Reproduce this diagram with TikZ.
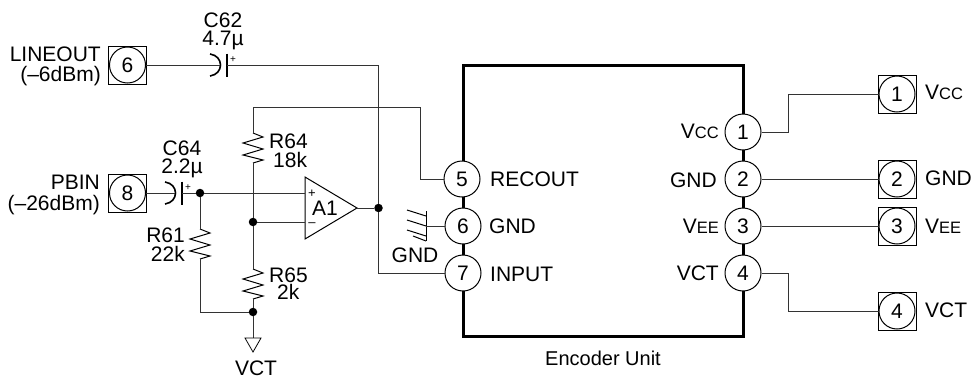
\documentclass[tikz,border=0pt]{standalone}
\usepackage{fontspec}
\setmainfont{Liberation Sans}
\newcommand{\lab}{\fontsize{21}{20}\selectfont}
\newcommand{\smc}[2]{#1{\fontsize{16.5}{16}\selectfont #2}}
\tikzset{
  pin/.style={draw=black,circle,fill=white,line width=1pt,minimum size=36pt,inner sep=0pt,font=\lab},
  term/.style={draw=black,rectangle,line width=1pt,minimum size=38pt,inner sep=0pt},
  wire/.style={draw=black!80,line width=0.85pt},
  dotn/.style={circle,fill=black,draw=none,minimum size=8.5pt,inner sep=0pt},
  body/.style={draw=black,line width=3pt},
  sym/.style={draw=black,line width=1pt},
  L/.style={anchor=base west,inner sep=0pt,font=\lab},
  R/.style={anchor=base east,inner sep=0pt,font=\lab},
  C/.style={anchor=base,inner sep=0pt,font=\lab},
  plus/.style={inner sep=0pt,font=\fontsize{10}{10}\selectfont},
  pics/resv/.style={code={\draw[sym,line join=miter] (0,0) -- (10,4) -- (-10,10) -- (10,16) -- (-10,22) -- (10,27) -- (0,30);}},
  pics/caph/.style={code={
    \draw[sym,line width=1.6pt] (-9,-11) .. controls (5,-9) and (5,9) .. (-9,11);
    \draw[sym,line width=1.6pt] (8,-11.5) -- (8,11.5);}}
}
\begin{document}
\begin{tikzpicture}[x=1pt,y=-1pt]
\useasboundingbox (0,0) rectangle (975,378);
% unit body
\node[draw=none,inner sep=0pt] (ul) at (463,65) {};
\node[draw=none,inner sep=0pt] (lr) at (743,336.5) {};
\draw[body,line join=miter] (ul.center) rectangle (lr.center);
% terminals
\node[term] (t6) at (127.5,65) {};
\node[pin] (c6t) at (127.5,65) {6};
\node[term] (t8) at (127.5,193) {};
\node[pin] (c8t) at (127.5,193) {8};
\node[term] (t1) at (897,94) {};
\node[pin] (c1t) at (897,94) {1};
\node[term] (t2) at (897,179) {};
\node[pin] (c2t) at (897,179) {2};
\node[term] (t3) at (897,226) {};
\node[pin] (c3t) at (897,226) {3};
\node[term] (t4) at (897,311) {};
\node[pin] (c4t) at (897,311) {4};
% unit pins
\node[pin] (p5) at (462,179) {5};
\node[pin] (p6) at (463,226) {6};
\node[pin] (p7) at (463,273) {7};
\node[pin] (p1) at (743,132) {1};
\node[pin] (p2) at (743,179) {2};
\node[pin] (p3) at (743,226) {3};
\node[pin] (p4) at (743,273) {4};
% right wires
\draw[wire] (p1.east) -- (788,132) -- (788,94) -- (c1t.west);
\draw[wire] (p2.east) -- (c2t.west);
\draw[wire] (p3.east) -- (c3t.west);
\draw[wire] (p4.east) -- (788,273) -- (788,311) -- (c4t.west);
% capacitors
\pic at (219,65) {caph};
\pic at (174,193) {caph};
\coordinate (c62l) at (220,65);
\coordinate (c62r) at (227,65);
\coordinate (c64l) at (175,193);
\coordinate (c64r) at (182,193);
\node[plus] at (233,59.5) {+};
\node[plus] at (188,187.5) {+};
% junctions
\node[dotn] (j1) at (200,193) {};
\node[dotn] (j2) at (253,222) {};
\node[dotn] (j3) at (253,312) {};
\node[dotn] (j4) at (378.5,208) {};
% op amp
\node[draw=none,inner sep=0pt] (oa) at (305,177) {};
\node[draw=none,inner sep=0pt] (ob) at (305,239) {};
\node[draw=none,inner sep=0pt] (oc) at (357,208) {};
\draw[sym,line join=miter] (oa.center) -- (oc.center) -- (ob.center) -- cycle;
\coordinate (ip) at (305,193);
\coordinate (im) at (305,222);
\node[font=\fontsize{13}{13}\selectfont,inner sep=0pt] at (312,193.5) {+};
\node[font=\fontsize{13}{13}\selectfont,inner sep=0pt] at (312,224.5) {–};
\node[C] at (325,215) {A1};
% resistors
\pic at (253,133) {resv};
\pic at (253,269) {resv};
\pic at (200,229) {resv};
% wires
\draw[wire] (c6t.east) -- (c62l);
\draw[wire] (c62r) -- (378.5,65) -- (j4) -- (378.5,273) -- (p7.west);
\draw[wire] (c8t.east) -- (c64l);
\draw[wire] (c64r) -- (j1) -- (ip);
\draw[wire] (oc.center) -- (j4);
\draw[wire] (im) -- (j2);
\draw[wire] (j1) -- (200,229);
\draw[wire] (200,259) -- (200,312) -- (j3);
\draw[wire] (p5.west) -- (420,179) -- (420,107) -- (253,107) -- (253,133);
\draw[wire] (253,163) -- (j2) -- (253,269);
\draw[wire] (253,299) -- (j3);
% VCT rail symbol
\node[draw=none,inner sep=0pt] (va) at (245,338) {};
\node[draw=none,inner sep=0pt] (vb) at (261,338) {};
\node[draw=none,inner sep=0pt] (vc) at (253,352) {};
\draw[wire] (j3) -- (253,338);
\draw[line width=0.8pt,line join=miter] (va.center) -- (vb.center) -- (vc.center) -- cycle;
% GND symbol
\coordinate (gt) at (426,211);
\coordinate (gb) at (426,241);
\draw[sym] (gt) -- (gb);
\draw[sym] (407,210) -- (426,216);
\draw[sym] (407,220) -- (426,226);
\draw[sym] (407,230) -- (426,236);
\draw[sym] (413,236) -- (426,241);
\draw[wire] (426,226) -- (p6.west);
% labels
\node[R] at (101,61) {LINEOUT};
\node[R] at (101,81.5) {(–6dBm)};
\node[R] at (100,189) {PBIN};
\node[R] at (100,210) {(–26dBm)};
\node[C] at (223,27) {C62};
\node[C] at (223,45) {4.7µ};
\node[C] at (182,155) {C64};
\node[C] at (182,173) {2.2µ};
\node[L] at (269,148) {R64};
\node[L] at (273,167) {18k};
\node[L] at (269,282) {R65};
\node[L] at (277,299) {2k};
\node[R] at (185,242) {R61};
\node[R] at (185,261) {22k};
\node[C] at (256,375) {VCT};
\node[C] at (415,262) {GND};
\node[L] at (490,186) {RECOUT};
\node[L] at (489,233) {GND};
\node[L] at (490,281) {INPUT};
\node[C,font=\fontsize{20}{20}\selectfont] at (603,365) {Encoder Unit};
\node[R] at (719,138) {\smc{V}{CC}};
\node[R] at (717,187) {GND};
\node[R] at (719,233) {\smc{V}{EE}};
\node[R] at (719,280) {VCT};
\node[L] at (925,99) {\smc{V}{CC}};
\node[L] at (925,185) {GND};
\node[L] at (925,233) {\smc{V}{EE}};
\node[L] at (925,317) {VCT};
\end{tikzpicture}
\end{document}
